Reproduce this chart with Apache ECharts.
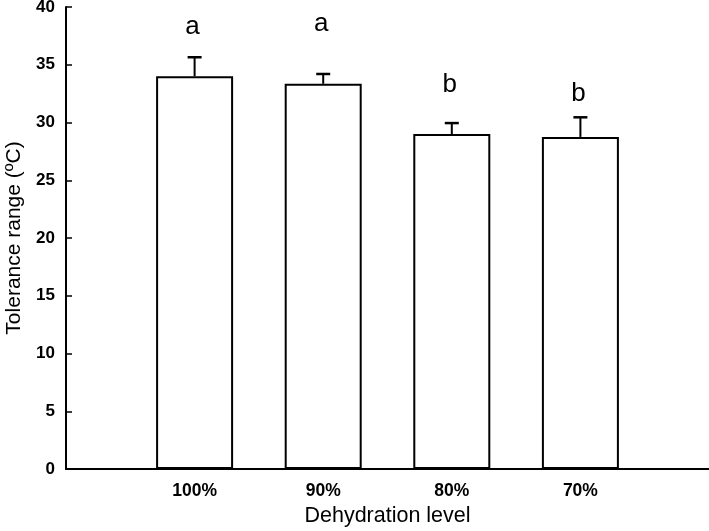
<!DOCTYPE html>
<html>
<head>
<meta charset="utf-8">
<script src="https://cdn.jsdelivr.net/npm/echarts@6/dist/echarts.min.js"></script>
<style>
  html, body { margin: 0; padding: 0; background: #fff; }
  #main { width: 709px; height: 531px; }
</style>
</head>
<body>
<div id="main"></div>
<script>
// data
var levels = ['', '100%', '90%', '80%', '70%', ''];
var means = [null, 34.0, 33.35, 29.0, 28.75, null];
var errs = [null, 1.65, 0.85, 0.95, 1.7, null];
var letters = [null, 'a', 'a', 'b', 'b', null];
var letterY = [null, 38.3, 38.55, 33.3, 32.45, null];

var myChart = echarts.init(document.getElementById('main'));
var font = 'Liberation Sans, Arial, sans-serif';

var errData = [], letterData = [];
for (var i = 0; i < levels.length; i++) {
    if (means[i] == null) continue;
    errData.push([i, means[i], means[i] + errs[i]]);
    letterData.push([i, letterY[i], letters[i]]);
}

var option = {
    animation: false,
    grid: { left: 66, right: 0, top: 7, bottom: 62, outerBoundsMode: 'none' },
    xAxis: {
        type: 'category',
        data: levels,
        boundaryGap: false,
        name: 'Dehydration level',
        nameLocation: 'middle',
        nameGap: 25,
        nameTextStyle: { fontSize: 21.5, color: '#000', fontFamily: font },
        axisLine: { lineStyle: { color: '#000', width: 2 } },
        axisTick: { show: false },
        axisLabel: { color: '#000', fontSize: 17.5, fontWeight: 'bold', fontFamily: font, margin: 13 },
        splitLine: { show: false }
    },
    yAxis: {
        type: 'value',
        min: 0,
        max: 40,
        interval: 5,
        name: 'Tolerance range (ºC)',
        nameLocation: 'middle',
        nameGap: 41,
        nameTextStyle: { fontSize: 21, color: '#000', fontFamily: font },
        axisLine: { show: true, lineStyle: { color: '#000', width: 2 } },
        axisTick: { show: true, inside: true, length: 6, lineStyle: { color: '#000', width: 1.5 } },
        axisLabel: { color: '#000', fontSize: 17, fontWeight: 'bold', fontFamily: font, margin: 11 },
        splitLine: { show: false }
    },
    series: [{
        type: 'bar',
        data: means,
        barWidth: 77,
        itemStyle: { color: '#fff', borderColor: '#000', borderWidth: 2 },
        z: 2
    }, {
        type: 'custom',
        data: errData,
        z: 3,
        renderItem: function (params, api) {
            var base = api.coord([api.value(0), api.value(1)]);
            var top = api.coord([api.value(0), api.value(2)]);
            var half = 7;
            return {
                type: 'group',
                children: [{
                    type: 'line',
                    shape: { x1: base[0], y1: base[1], x2: top[0], y2: top[1] },
                    style: { stroke: '#000', lineWidth: 2 }
                }, {
                    type: 'line',
                    shape: { x1: top[0] - half, y1: top[1], x2: top[0] + half, y2: top[1] },
                    style: { stroke: '#000', lineWidth: 2.5 }
                }]
            };
        }
    }, {
        type: 'custom',
        data: letterData,
        z: 4,
        renderItem: function (params, api) {
            var p = api.coord([api.value(0), api.value(1)]);
            return {
                type: 'text',
                x: p[0] - 2,
                y: p[1],
                style: {
                    text: letterData[params.dataIndex][2],
                    fontSize: 26,
                    fontFamily: font,
                    fill: '#000',
                    align: 'center',
                    verticalAlign: 'middle'
                }
            };
        }
    }]
};

myChart.setOption(option);
</script>
</body>
</html>
